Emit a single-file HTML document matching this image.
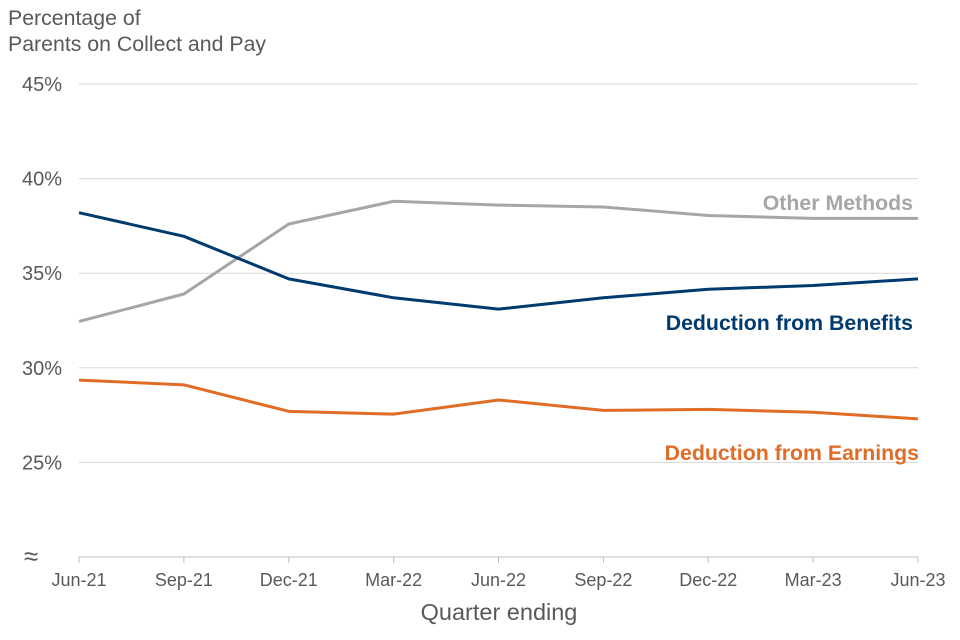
<!DOCTYPE html>
<html><head><meta charset="utf-8"><style>
html,body{margin:0;padding:0;background:#fff;}
svg{display:block;font-family:"Liberation Sans",Arial,sans-serif;}
</style></head><body>
<svg id="chart" width="960" height="640" viewBox="0 0 960 640">
<text x="8" y="25" font-size="21.3" fill="#595959">Percentage of</text>
<text x="8" y="51" font-size="21.3" fill="#595959">Parents on Collect and Pay</text>
<g id="grid"></g><g id="axes"></g><g id="series"></g>
<text x="499" y="620" font-size="23.5" fill="#595959" text-anchor="middle">Quarter ending</text>
<text x="913" y="210" font-size="21.3" font-weight="bold" fill="#a6a6a6" text-anchor="end">Other Methods</text>
<text x="913" y="330" font-size="21.3" font-weight="bold" fill="#003b6f" text-anchor="end">Deduction from Benefits</text>
<text x="919" y="460" font-size="21.3" font-weight="bold" fill="#e06c28" text-anchor="end">Deduction from Earnings</text>
<text x="24" y="565" font-size="26" fill="#595959">≈</text>
</svg>
<script>
const categories=["Jun-21","Sep-21","Dec-21","Mar-22","Jun-22","Sep-22","Dec-22","Mar-23","Jun-23"];
const benefits=[38.2,36.95,34.7,33.7,33.1,33.7,34.15,34.35,34.7];
const otherMethods=[32.45,33.9,37.6,38.8,38.6,38.5,38.05,37.9,37.9];
const earnings=[29.35,29.1,27.7,27.55,28.3,27.75,27.8,27.65,27.3];
const yTicks=[25,30,35,40,45];
const yTickLabels=["25%","30%","35%","40%","45%"];
const NS="http://www.w3.org/2000/svg";
const x0=79,x1=918,yBase=557,yMin=20,yMax=45,yTop=84;
const xs=i=>x0+(x1-x0)*i/(categories.length-1);
const ys=v=>yBase-(v-yMin)/(yMax-yMin)*(yBase-yTop);
function mk(t,a,p){const e=document.createElementNS(NS,t);for(const k in a)e.setAttribute(k,a[k]);p.appendChild(e);return e;}
const grid=document.getElementById('grid'),axes=document.getElementById('axes'),ser=document.getElementById('series');
yTicks.forEach((v,i)=>{
 const l=mk('line',{x1:x0,x2:x1,y1:ys(v),y2:ys(v),stroke:'#d9d9d9','stroke-width':1},grid);
 
 
 const t=mk('text',{x:62,y:ys(v)+7,'font-size':20,fill:'#595959','text-anchor':'end'},axes);
 t.textContent=yTickLabels[i];
 
 
});
const ax=mk('line',{x1:x0,x2:x1,y1:yBase,y2:yBase,stroke:'#bfbfbf','stroke-width':1},axes);


categories.forEach((c,i)=>{
 const tk=mk('line',{x1:xs(i),x2:xs(i),y1:yBase,y2:yBase+6,stroke:'#bfbfbf'},axes);
 
 
 const t=mk('text',{x:xs(i),y:586,'font-size':18,fill:'#595959','text-anchor':'middle'},axes);
 t.textContent=c;
 
 
});
function line(data,color,name){
 const p=mk('polyline',{points:data.map((v,i)=>xs(i)+','+ys(v)).join(' '),fill:'none',stroke:color,'stroke-width':3,'stroke-linejoin':'round'},ser);
 
 
}
line(otherMethods,'#a6a6a6','series-other-methods');
line(benefits,'#003b6f','series-deduction-benefits');
line(earnings,'#e06c28','series-deduction-earnings');
</script>
</body></html>
